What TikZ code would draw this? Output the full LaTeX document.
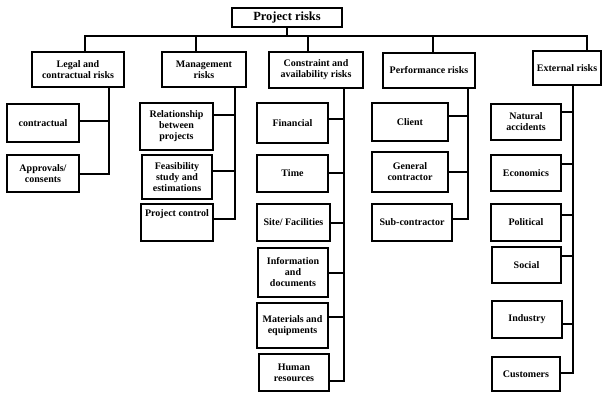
\documentclass[tikz,border=0pt]{standalone}
\usepackage{fontspec}
\setmainfont{Liberation Serif}
\begin{document}
\begin{tikzpicture}[x=1pt,y=-1pt,
  box/.style={draw, line width=1.6pt, inner sep=1pt, align=center,
    font=\bfseries\fontsize{10}{11}\selectfont},
  wire/.style={line width=1.6pt}]
\useasboundingbox (0,0) rectangle (604,392);
\newcommand{\bx}[6]{\node[box, minimum width=#4, minimum height=#5] (#1) at (#2,#3) {#6};}
% root
\node[box, minimum width=110, minimum height=19, font=\bfseries\fontsize{12.5}{13}\selectfont] (top) at (287,17.5) {Project risks};
% level 1
\bx{legal}{78}{69.5}{92}{35}{Legal and\\contractual risks}
\bx{mgmt}{204}{69.5}{84}{35}{Management\\risks}
\bx{cons}{316}{70}{94}{36}{Constraint and\\availability risks}
\bx{perf}{429}{70.5}{92}{35}{Performance risks}
\bx{ext}{567}{68}{68}{34}{External risks}
% bar
\coordinate (dL) at (85,36);
\coordinate (dM) at (196,36);
\coordinate (dC) at (308,36);
\coordinate (dP) at (433,36);
\coordinate (dE) at (587,36);
\draw[wire] (top.south) -- (top.south |- dL);
\draw[wire] (dL |- legal.north) -- (dL) -- (dE) -- (dE |- ext.north);
\draw[wire] (dM) -- (dM |- mgmt.north);
\draw[wire] (dC) -- (dC |- cons.north);
\draw[wire] (dP) -- (dP |- perf.north);
% legal children
\bx{contr}{43}{123}{72}{38}{contractual}
\bx{appr}{43}{173.5}{72}{37}{Approvals/\\consents}
\coordinate (tL) at (109,0);
\draw[wire] (contr.east |- 0,121) -- (tL |- 0,121);
\draw[wire] (appr.east |- 0,174) -| (tL |- legal.south);
% management children
\bx{rel}{176.5}{126.5}{73}{47}{Relationship\\between\\projects}
\bx{feas}{177}{177}{70}{44}{Feasibility\\study and\\estimations}
\bx{pc}{177}{222.5}{72}{37}{Project control\\[8pt]\mbox{}}
\coordinate (tM) at (235,0);
\draw[wire] (rel.east |- 0,115) -- (tM |- 0,115);
\draw[wire] (feas.east |- 0,171) -- (tM |- 0,171);
\draw[wire] (pc.east |- 0,219) -| (tM |- mgmt.south);
% constraint children
\bx{fin}{292.5}{123}{71}{40}{Financial}
\bx{time}{292.5}{173.5}{71}{37}{Time}
\bx{site}{293.5}{222.5}{73}{37}{Site/ Facilities}
\bx{info}{293}{272.5}{70}{49}{Information\\and\\documents}
\bx{mat}{292.5}{325.5}{71}{45}{Materials and\\equipments}
\bx{hum}{294}{372.5}{70}{37}{Human\\resources}
\coordinate (tC) at (344,0);
\draw[wire] (fin.east |- 0,119) -- (tC |- 0,119);
\draw[wire] (time.east |- 0,173) -- (tC |- 0,173);
\draw[wire] (site.east |- 0,223) -- (tC |- 0,223);
\draw[wire] (info.east |- 0,273) -- (tC |- 0,273);
\draw[wire] (mat.east |- 0,317) -- (tC |- 0,317);
\draw[wire] (hum.east |- 0,381) -| (tC |- cons.south);
% performance children
\bx{cli}{410}{122}{76}{38}{Client}
\bx{gc}{410}{172}{76}{40}{General\\contractor}
\bx{sub}{412}{222.5}{80}{37}{Sub-contractor}
\coordinate (tP) at (468,0);
\draw[wire] (cli.east |- 0,116) -- (tP |- 0,116);
\draw[wire] (gc.east |- 0,172) -- (tP |- 0,172);
\draw[wire] (sub.east |- 0,219) -| (tP |- perf.south);
% external children
\bx{nat}{526}{122}{70}{36}{Natural\\accidents}
\bx{eco}{526}{173}{70}{36}{Economics}
\bx{pol}{526}{222.5}{70}{37}{Political}
\bx{soc}{526.5}{265}{69}{36}{Social}
\bx{ind}{527}{319.5}{70}{37}{Industry}
\bx{cus}{526}{374}{68}{34}{Customers}
\coordinate (tE) at (573,0);
\draw[wire] (nat.east |- 0,112) -- (tE |- 0,112);
\draw[wire] (eco.east |- 0,164) -- (tE |- 0,164);
\draw[wire] (pol.east |- 0,215) -- (tE |- 0,215);
\draw[wire] (soc.east |- 0,256) -- (tE |- 0,256);
\draw[wire] (ind.east |- 0,324) -- (tE |- 0,324);
\draw[wire] (cus.east |- 0,373) -| (tE |- ext.south);
\end{tikzpicture}
\end{document}
